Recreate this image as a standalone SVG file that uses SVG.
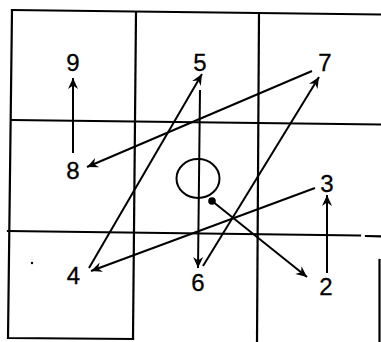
<svg xmlns="http://www.w3.org/2000/svg" width="381" height="342" viewBox="0 0 381 342">
<defs>
<marker id="ah" markerUnits="userSpaceOnUse" markerWidth="14" markerHeight="12" refX="12" refY="6" orient="auto">
<path d="M1,1 L12,6 L1,11 L4.5,6 z" fill="#000"/>
</marker>
<style>
.grid{stroke:#000;stroke-width:2.2;fill:none;stroke-linecap:square}
.arr{stroke:#000;stroke-width:2;fill:none;marker-end:url(#ah)}
.lbl{font-family:"Liberation Sans",Arial,sans-serif;font-size:24px;fill:#000;text-anchor:middle;stroke:#000;stroke-width:0.3}
</style>
</defs>
<rect width="381" height="342" fill="#fff"/>
<g id="grid">
<path class="grid" d="M12,10 L381,14.5"/>
<path class="grid" d="M12,120 L381,124.5"/>
<path class="grid" d="M8,231 L360,235.5 M366,236 L381,236.3"/>
<path class="grid" d="M12,10 L8,338 L133,339"/>
<path class="grid" d="M136,12 L133,339"/>
<path class="grid" d="M259,13 L257,342"/>
<path class="grid" d="M379.5,260 L379.5,342"/>
</g>
<g id="figure">
<ellipse cx="198" cy="178.5" rx="21.5" ry="19.5" fill="none" stroke="#000" stroke-width="2"/>
<circle cx="212" cy="201" r="3.8" fill="#000"/>
<circle cx="32" cy="263" r="1.2" fill="#000"/>
</g>
<g id="connectors">
<line class="arr" x1="73" y1="153" x2="73" y2="78"/>
<line class="arr" x1="327" y1="273" x2="327" y2="195"/>
<line class="arr" x1="312" y1="71" x2="87" y2="167"/>
<line class="arr" x1="315" y1="188" x2="91" y2="271"/>
<line class="arr" x1="89" y1="268" x2="202" y2="74"/>
<line class="arr" x1="203" y1="266" x2="319" y2="77"/>
<line class="arr" x1="200" y1="90" x2="198" y2="268"/>
<line class="arr" x1="212" y1="201" x2="307" y2="277"/>
</g>
<g id="n9"><text class="lbl" x="73" y="71">9</text></g>
<g id="n5"><text class="lbl" x="200" y="71">5</text></g>
<g id="n7"><text class="lbl" x="325" y="71">7</text></g>
<g id="n8"><text class="lbl" x="73" y="179">8</text></g>
<g id="n3"><text class="lbl" x="327" y="192">3</text></g>
<g id="n4"><text class="lbl" x="73.5" y="284">4</text></g>
<g id="n6"><text class="lbl" x="198" y="291">6</text></g>
<g id="n2"><text class="lbl" x="326" y="295">2</text></g>
</svg>
